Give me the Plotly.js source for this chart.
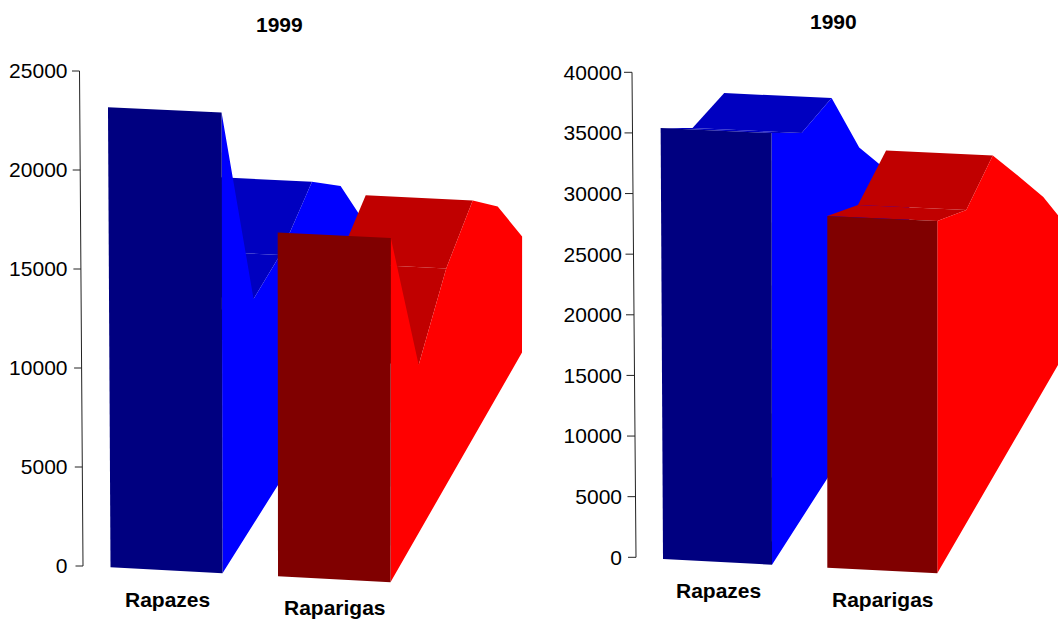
<!DOCTYPE html>
<html>
<head>
<meta charset="utf-8">
<script src="https://cdn.plot.ly/plotly-3.0.1.min.js"></script>
<style>html,body{margin:0;padding:0;background:#fff}#chart{width:1058px;height:619px}</style>
</head>
<body>
<div id="chart"></div>
<script>
// ---- data ----
const categories = ['Rapazes', 'Raparigas'];
const years = ['1999', '1990'];
const rapazes1999 = [23270, 11530, 11830, 13250, 10800, 6930];
const raparigas1999 = [17390, 8660, 11350, 12720, 10250, 6400];
const rapazes1990 = [35600, 32230, 31720, 24240, 19180, 12950];
const raparigas1990 = [29060, 26220, 27380, 22240, 16960, 10630];
const ticks1999 = [0, 5000, 10000, 15000, 20000, 25000];
const ticks1990 = [0, 5000, 10000, 15000, 20000, 25000, 30000, 35000, 40000];

// ---- oblique projection settings (pixels on the canvas) ----
const W = 1058, H = 619;
const blue = {front: '#000080', side: '#0000ff', top: '#0000c0'};
const red = {front: '#800000', side: '#ff0000', top: '#c00000'};
const panels = [
  {
    ax: '', y0: 566, pxPerUnit: 495 / 25000, xStart: 68.5, xEnd: 540,
    shrink: [1, .982, .965, .947, .93, .915], ticks: ticks1999,
    spine: {x0: 83, lean: 3.5 / 25000, len: 7.5},
    series: [
      {vals: rapazes1999, col: blue, xR: 222.5, yR: 573.3, width: 112, tilt: 6, leanR: .002, leanL: .0055,
       dx: [0, 31.5, 58, 90, 118.5, 142], slope: 1.59},
      {vals: raparigas1999, col: red, xR: 390.5, yR: 582.3, width: 112.5, tilt: 6, leanR: -.001, leanL: .001,
       dx: [0, 28, 55.5, 82, 107, 131.5], slope: 1.748}
    ]
  },
  {
    ax: '2', y0: 557.3, pxPerUnit: 485 / 40000, xStart: 623, xEnd: 1058,
    shrink: [1, .985, .97, .955, .94, .925], ticks: ticks1990,
    spine: {x0: 636, lean: 4 / 40000, len: 8},
    series: [
      {vals: rapazes1990, col: blue, xR: 772, yR: 564.7, width: 109, tilt: 5.7, leanR: .001, leanL: .0055,
       dx: [0, 30, 60, 87.5, 113.5, 137.5], slope: 1.56},
      {vals: raparigas1990, col: red, xR: 937.3, yR: 573.3, width: 110, tilt: 5.6, leanR: 0, leanL: 0,
       dx: [0, 29, 55.5, 81, 106, 131], slope: 1.726}
    ]
  }
];

const traces = [];
function poly(p, pts, color) {
  traces.push({
    type: 'scatter', mode: 'lines', fill: 'toself', fillcolor: color,
    line: {width: 0, color: color}, hoverinfo: 'skip', showlegend: false,
    x: pts.map(q => q[0]), y: pts.map(q => q[1]),
    xaxis: 'x' + p.ax, yaxis: 'y' + p.ax
  });
}
panels.forEach(p => {
  const toY = sy => (p.y0 - sy) / p.pxPerUnit;       // canvas height -> axis units
  p.series.forEach(s => {
    const n = s.vals.length;
    const pt = (d, v, left) => {
      const sc = p.shrink[d], h = v * p.pxPerUnit * sc * (left ? .9985 : 1);
      const floor = s.yR - s.slope * s.dx[d] - (left ? s.tilt * sc : 0);
      const xr = s.xR + s.dx[d];
      const x = left ? xr - s.width * sc - s.leanL * h : xr - s.leanR * h;
      return [x, toY(floor - h)];
    };
    // top faces, back to front, only those turned to the viewer
    for (let d = n - 2; d >= 0; d--) {
      const a = pt(d, s.vals[d], false), b = pt(d + 1, s.vals[d + 1], false);
      if (b[1] >= a[1] - 1 / p.pxPerUnit) {
        poly(p, [a, b, pt(d + 1, s.vals[d + 1], true), pt(d, s.vals[d], true), a], s.col.top);
      }
    }
    // right side
    const side = [];
    for (let d = 0; d < n; d++) side.push(pt(d, s.vals[d], false));
    side.push(pt(n - 1, 0, false), pt(0, 0, false), pt(0, s.vals[0], false));
    poly(p, side, s.col.side);
    // front
    poly(p, [pt(0, 0, true), pt(0, 0, false), pt(0, s.vals[0], false), pt(0, s.vals[0], true), pt(0, 0, true)], s.col.front);
  });
  // slanted axis line with its tick marks
  const ax = [], ay = [];
  const top = p.ticks[p.ticks.length - 1];
  const sx = v => p.spine.x0 - v * p.spine.lean;
  ax.push(sx(0), sx(top), null); ay.push(0, top, null);
  p.ticks.forEach(v => { ax.push(sx(v) - p.spine.len, sx(v), null); ay.push(v, v, null); });
  traces.push({
    type: 'scatter', mode: 'lines', x: ax, y: ay, connectgaps: false,
    line: {color: '#222', width: 1}, hoverinfo: 'skip', showlegend: false,
    xaxis: 'x' + p.ax, yaxis: 'y' + p.ax
  });
});

const FONT = '"Liberation Sans", Arial, sans-serif';
const layout = {
  width: W, height: H, autosize: false, showlegend: false,
  margin: {l: 0, r: 0, t: 0, b: 0, pad: 0},
  paper_bgcolor: '#fff', plot_bgcolor: 'rgba(0,0,0,0)',
  annotations: []
};
panels.forEach(p => {
  layout['xaxis' + p.ax] = {
    domain: [p.xStart / W, p.xEnd / W], range: [p.xStart, p.xEnd], visible: false,
    anchor: 'y' + p.ax, fixedrange: true
  };
  layout['yaxis' + p.ax] = {
    domain: [0, 1], range: [(p.y0 - H) / p.pxPerUnit, p.y0 / p.pxPerUnit],
    anchor: 'x' + p.ax, side: 'left', showgrid: false, zeroline: false, showline: false,
    ticks: '', tickmode: 'array', tickvals: p.ticks, ticktext: p.ticks.map(String),
    tickfont: {family: FONT, size: 21, color: '#000'}, fixedrange: true
  };
});
const labelPos = [
  [years[0], 279.5, 24.5], [years[1], 833, 22],
  [categories[0], 167, 599], [categories[1], 335, 607.5],
  [categories[0], 718, 590], [categories[1], 882.5, 599]
];
labelPos.forEach(l => layout.annotations.push({
  text: '<b>' + l[0] + '</b>', xref: 'paper', yref: 'paper', showarrow: false,
  x: l[1] / W, y: 1 - l[2] / H, xanchor: 'center', yanchor: 'middle',
  font: {family: FONT, size: 21, color: '#000'}
}));
Plotly.newPlot('chart', traces, layout, {staticPlot: true, displayModeBar: false});
</script>
</body>
</html>
